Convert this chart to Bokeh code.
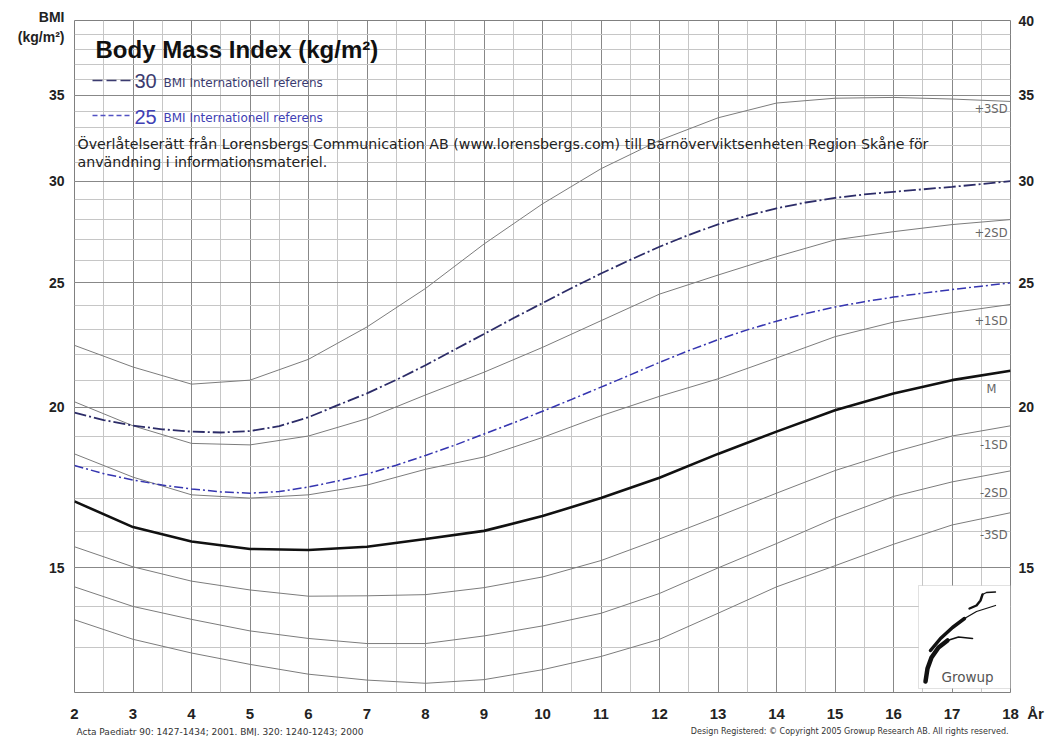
import math
from bokeh.plotting import figure
from bokeh.layouts import column
from bokeh.models import Range1d, FixedTicker, LogAxis, Label, BoxAnnotation, PrintfTickFormatter
from bokeh.embed import file_html
from bokeh.resources import INLINE

# ---------------- data ----------------
ages = [2, 3, 4, 5, 6, 7, 8, 9, 10, 11, 12, 13, 14, 15, 16, 17, 18]
sd_plus3 = [22.35, 21.5, 20.85, 21.0, 21.8, 23.1, 24.75, 26.8, 28.8, 30.67, 32.27, 33.6, 34.5, 34.8, 34.85, 34.75, 34.6]
sd_plus2 = [20.2, 19.35, 18.75, 18.7, 19.0, 19.6, 20.45, 21.3, 22.27, 23.36, 24.5, 25.35, 26.2, 27.0, 27.4, 27.75, 28.0]
sd_plus1 = [18.4, 17.65, 17.1, 17.0, 17.1, 17.4, 17.9, 18.3, 18.95, 19.7, 20.4, 21.05, 21.85, 22.7, 23.3, 23.7, 24.05]
median = [16.9, 16.14, 15.73, 15.52, 15.49, 15.58, 15.8, 16.03, 16.46, 17.0, 17.63, 18.4, 19.15, 19.9, 20.5, 21.0, 21.36]
sd_minus1 = [15.58, 15.03, 14.65, 14.42, 14.26, 14.27, 14.3, 14.48, 14.76, 15.2, 15.8, 16.45, 17.15, 17.86, 18.46, 19.0, 19.35]
sd_minus2 = [14.5, 14.0, 13.68, 13.4, 13.22, 13.1, 13.1, 13.28, 13.52, 13.83, 14.33, 15.0, 15.67, 16.4, 17.05, 17.5, 17.85]
sd_minus3 = [13.67, 13.2, 12.88, 12.62, 12.4, 12.27, 12.2, 12.28, 12.5, 12.8, 13.2, 13.83, 14.5, 15.06, 15.65, 16.2, 16.56]

iotf_ages = [2, 2.5, 3, 3.5, 4, 4.5, 5, 5.5, 6, 6.5, 7, 7.5, 8, 8.5, 9, 9.5, 10, 10.5, 11, 11.5,
             12, 12.5, 13, 13.5, 14, 14.5, 15, 15.5, 16, 16.5, 17, 17.5, 18]
iotf_30 = [19.81, 19.55, 19.36, 19.23, 19.15, 19.12, 19.17, 19.34, 19.65, 20.08, 20.51, 21.01, 21.57, 22.18,
           22.81, 23.46, 24.11, 24.77, 25.42, 26.05, 26.67, 27.24, 27.76, 28.20, 28.57, 28.87, 29.11, 29.29,
           29.43, 29.56, 29.69, 29.84, 30.0]
iotf_25 = [18.02, 17.76, 17.56, 17.40, 17.28, 17.19, 17.15, 17.20, 17.34, 17.53, 17.75, 18.03, 18.35, 18.69,
           19.07, 19.45, 19.86, 20.29, 20.74, 21.20, 21.68, 22.14, 22.58, 22.98, 23.34, 23.66, 23.94, 24.17,
           24.37, 24.54, 24.70, 24.85, 25.0]

x_ticks = list(range(2, 19))
x_half_ticks = [a + 0.5 for a in range(2, 18)]
y_ticks_left = [15, 20, 25, 30, 35]
y_ticks_right = [15, 20, 25, 30, 35, 40]
y_grid_all = list(range(12, 41))
sd_names = ["+3SD", "+2SD", "+1SD", "M", "-1SD", "-2SD", "-3SD"]
y_axis_title = "BMI\n(kg/m²)"
x_axis_unit = "År"

# ---------------- layout helpers ----------------
FONT = "Liberation Sans"
WIDE = "DejaVu Sans"
X0, X1, Y0, Y1 = 2.0, 18.0, 12.0, 40.0
FL, FR, FT, FB = 74.0, 1010.0, 20.0, 692.0   # frame edges in reference pixels
W = 1046


def px(xp):
    return X0 + (xp - FL) * (X1 - X0) / (FR - FL)


def py(yp):
    return math.exp(math.log(Y1) - (yp - FT) * (math.log(Y1) - math.log(Y0)) / (FB - FT))


p = figure(frame_width=int(FR - FL), frame_height=int(FB - FT),
           min_border_left=int(FL), min_border_right=W - int(FR), min_border_top=int(FT), min_border_bottom=32,
           x_range=Range1d(X0, X1), y_range=Range1d(Y0, Y1), y_axis_type="log",
           output_backend="svg", toolbar_location=None)
p.background_fill_color = "white"
p.border_fill_color = "white"
p.outline_line_color = "#808080"

# grid
p.xgrid.ticker = FixedTicker(ticks=x_ticks, minor_ticks=x_half_ticks)
p.xgrid.grid_line_color = "#888888"
p.xgrid.minor_grid_line_color = "#c6c6c6"
p.ygrid.ticker = FixedTicker(ticks=y_ticks_right, minor_ticks=y_grid_all)
p.ygrid.grid_line_color = "#888888"
p.ygrid.minor_grid_line_color = "#c6c6c6"

# axes
nb = "\u00a0"
title_tick = round(py(26.5), 4)   # position of the two-line axis title at the top of the left axis
p.xaxis.ticker = FixedTicker(ticks=x_ticks)
p.xaxis.major_label_overrides = {18: nb * 6 + "18" + nb * 2 + x_axis_unit}
p.yaxis.ticker = FixedTicker(ticks=y_ticks_left + [title_tick])
p.yaxis.formatter = PrintfTickFormatter(format="%d")
p.yaxis.major_label_overrides = {title_tick: y_axis_title}
ax_r = LogAxis(ticker=FixedTicker(ticks=y_ticks_right), formatter=PrintfTickFormatter(format="%d"))
p.add_layout(ax_r, "right")
for ax in [p.xaxis[0], p.yaxis[0], ax_r]:
    ax.axis_line_color = None
    ax.major_tick_line_color = None
    ax.minor_tick_line_color = None
    ax.major_tick_out = 0
    ax.major_tick_in = 0
    ax.minor_tick_out = 0
    ax.minor_tick_in = 0
    ax.major_label_text_font = FONT
    ax.major_label_text_font_style = "bold"
    ax.major_label_text_font_size = "14px"
    ax.major_label_text_color = "#222222"
p.xaxis.major_label_standoff = 12
p.xaxis.major_label_text_font_size = "15px"
p.yaxis.major_label_standoff = 10
ax_r.major_label_standoff = 8

# curves
for series in [sd_plus3, sd_plus2, sd_plus1, sd_minus1, sd_minus2, sd_minus3]:
    p.line(ages, series, line_color="#7c7c7c", line_width=1)
p.line(ages, median, line_color="#111111", line_width=2.6)
p.line(iotf_ages, iotf_30, line_color="#2c2c68", line_width=1.8, line_dash="12 3 2 3")
p.line(iotf_ages, iotf_25, line_color="#3535b0", line_width=1.5, line_dash="9 3 2 3")


def label(fig, x, y, text, size, color="#222222", style="normal", align="left", font=FONT):
    fig.add_layout(Label(x=x, y=y, text=text, text_font=font, text_font_size=size,
                         text_font_style=style, text_color=color, text_align=align,
                         text_baseline="middle"))


def plabel(xp, yp, text, size, **kw):
    label(p, px(xp), py(yp), text, size, **kw)


# SD labels at the right
sd_label_y = [108, 232, 320, 388, 444, 492, 534]
for name, yy in zip(sd_names, sd_label_y):
    plabel(1007 if name != "M" else 996, yy, name, "11.5px", color="#666666", align="right", font=WIDE)

# title and notes
plabel(95, 49, "Body Mass Index (kg/m²)", "24px", color="#111111", style="bold")

# legend
p.segment(x0=[px(92)], y0=[py(80)], x1=[px(132)], y1=[py(80)], line_color="#3b3b70", line_width=1.6,
          line_dash="10 4")
p.segment(x0=[px(92)], y0=[py(115)], x1=[px(132)], y1=[py(115)], line_color="#5252c4", line_width=1.4,
          line_dash="5 3")
plabel(134, 80, "30", "20px", color="#3b3b70")
plabel(163, 82, "BMI Internationell referens", "12px", color="#3b3b70", font=WIDE)
plabel(134, 116, "25", "20px", color="#4040b4")
plabel(163, 117, "BMI Internationell referens", "12px", color="#4040b4", font=WIDE)

plabel(77, 143, "Överlåtelserätt från Lorensbergs Communication AB (www.lorensbergs.com) till "
                "Barnöverviktsenheten Region Skåne för", "14.2px", color="#222222", font=WIDE)
plabel(77, 161, "användning i informationsmateriel.", "14.2px", color="#222222", font=WIDE)

# Growup logo box
p.add_layout(BoxAnnotation(left=px(918), right=px(1010), top=py(585), bottom=py(688),
                           fill_color="white", fill_alpha=1.0, line_color="#9a9a9a", line_width=1))
strokes = [
    ([925, 927, 931, 938, 947], [681, 668, 657, 647, 640], 4.5),
    ([947, 958, 972], [640, 636.5, 638], 1.6),
    ([930, 940, 952, 964], [650, 638, 627, 618], 3.5),
    ([964, 976, 995], [618, 611, 605], 1.3),
    ([969, 976, 980, 982], [608, 605, 600, 594], 2.4),
    ([982, 986, 995], [594, 592, 591.5], 1.3),
]
for sx, sy, w in strokes:
    r = p.line([px(v) for v in sx], [py(v) for v in sy], line_color="#111111", line_width=w,
               line_cap="round", line_join="round")
    r.level = "overlay"
plabel(967, 676, "Growup", "13.5px", color="#555555", align="center", font=WIDE)

# footer strip (its frame is aligned with the chart frame by the column layout)
FH = 12
foot = figure(width=W, height=FH, min_border=0, x_range=Range1d(FL, FR), y_range=Range1d(0, FH),
              x_axis_location=None, y_axis_location=None, output_backend="svg", toolbar_location=None)
foot.grid.visible = False
foot.outline_line_color = None
foot.background_fill_color = "white"
foot.border_fill_color = "white"
label(foot, 76, FH - 7, "Acta Paediatr 90: 1427-1434; 2001. BMJ. 320: 1240-1243; 2000", "9px",
      color="#333333", font=WIDE)
label(foot, 1008, FH - 7, "Design Registered: © Copyright 2005 Growup Research AB. All rights reserved.", "8px",
      color="#333333", align="right", font=WIDE)

page = column(p, foot, spacing=0)
open("out.html", "w").write(file_html(page, INLINE))
